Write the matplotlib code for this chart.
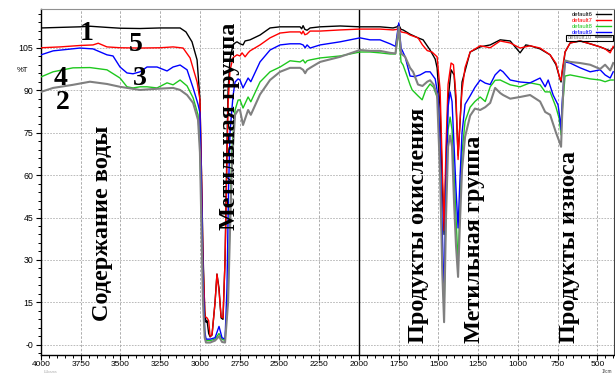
import matplotlib
matplotlib.use("Agg")
import matplotlib.pyplot as plt
from matplotlib.patches import Rectangle
from matplotlib.ticker import MultipleLocator
import numpy as np

# ── Spectra (wavenumber, %T) ─────────────────────────────────────────────────
WN_6 = [4000, 3880, 3755, 3690, 3585, 3500, 3377, 3251, 3125, 3088, 3050, 3018, 3000, 2990, 2981, 2970,
        2962, 2955, 2945, 2936, 2924, 2905, 2893, 2880, 2867, 2855, 2842, 2830, 2823, 2811, 2792, 2779,
        2767, 2748, 2729, 2716, 2685, 2622, 2559, 2496, 2433, 2370, 2360, 2351, 2340, 2326, 2307, 2244,
        2118, 1993, 1867, 1785, 1760, 1749, 1735, 1722, 1678, 1628, 1596, 1552, 1520, 1508, 1489, 1475,
        1464, 1452, 1439, 1420, 1401, 1389, 1376, 1363, 1351, 1300, 1237, 1174, 1111, 1048, 986, 950,
        923, 860, 797, 760, 735, 728, 722, 710, 703, 671, 608, 545, 482, 451, 419, 400]
T_6 = [112.0, 112.2, 112.4, 112.6, 112.2, 111.9, 111.8, 112.0, 112.0, 110.6, 107.1, 100.7, 86.6, 60, 33, 12,
       8.0, 8.5, 4, 2.8, 3.5, 15, 25, 20, 9.5, 9.0, 30, 70, 90, 101, 106, 106.7,
       107.1, 106.4, 106.0, 107.4, 107.8, 109.5, 112.0, 112.4, 112.4, 112.4, 111.7, 112.8, 111.5, 111.2, 112.0, 112.4,
       112.7, 112.4, 112.4, 112.0, 112.4, 113.1, 111.5, 111.3, 109.8, 108.5, 107.8, 104.2, 101, 97.9, 83.7, 57,
       39.0, 63, 86.6, 97.2, 95.4, 85, 67, 79, 92.9, 103.5, 105.3, 106.0, 107.8, 107.4, 103.2, 106.0,
       105.7, 104.6, 102.5, 99.0, 94.0, 92.9, 96.0, 100, 103.5, 106.7, 107.4, 106.4, 105.3, 104.6, 103.9, 105.0]

WN_7 = [4000, 3880, 3755, 3673, 3640, 3585, 3500, 3377, 3251, 3169, 3106, 3062, 3018, 3000, 2990, 2981,
        2968, 2955, 2945, 2936, 2924, 2905, 2893, 2880, 2867, 2855, 2842, 2830, 2823, 2811, 2792, 2767,
        2748, 2735, 2716, 2697, 2685, 2622, 2559, 2496, 2433, 2370, 2360, 2351, 2340, 2326, 2307, 2244,
        2118, 1993, 1867, 1785, 1760, 1749, 1735, 1700, 1678, 1628, 1600, 1570, 1540, 1508, 1489, 1475,
        1464, 1452, 1439, 1420, 1405, 1389, 1376, 1363, 1351, 1332, 1300, 1237, 1174, 1111, 1048, 986,
        923, 860, 797, 760, 735, 728, 722, 710, 703, 671, 608, 545, 482, 451, 419, 400]
T_7 = [105.0, 105.3, 105.8, 106.0, 106.6, 105.3, 105.0, 104.9, 105.0, 105.3, 104.9, 101.4, 92.9, 86.6, 60, 30,
       10, 9.5, 8.5, 3.0, 3.5, 15, 25, 19, 10, 9.5, 30, 65, 85, 97, 101.5, 102.5,
       102.1, 103.2, 101.8, 103.2, 103.9, 106.0, 108.5, 110.2, 110.6, 110.6, 109.9, 110.9, 109.6, 109.9, 110.9, 110.9,
       111.3, 111.6, 111.6, 111.3, 111.5, 112.4, 110.6, 110.2, 109.5, 108.5, 106.0, 104.0, 103.5, 101.8, 90, 62,
       40.5, 70, 92, 99.6, 99.0, 88, 65.5, 80, 90, 98, 103.5, 105.7, 105.0, 107.4, 106.7, 104.9,
       105.7, 104.9, 102.5, 99.5, 94.0, 93.5, 96.5, 101, 103.5, 106.7, 107.4, 106.4, 105.3, 104.6, 103.2, 105.5]

WN_8 = [4000, 3924, 3799, 3692, 3585, 3503, 3459, 3421, 3377, 3333, 3270, 3207, 3169, 3125, 3081, 3043,
        3012, 3000, 2990, 2981, 2970, 2962, 2936, 2905, 2880, 2861, 2842, 2823, 2811, 2798, 2779, 2760,
        2748, 2729, 2697, 2680, 2622, 2559, 2496, 2433, 2370, 2351, 2338, 2326, 2307, 2244, 2118, 1993,
        1930, 1867, 1804, 1770, 1749, 1735, 1722, 1697, 1678, 1665, 1628, 1602, 1580, 1552, 1530, 1502,
        1489, 1475, 1464, 1452, 1439, 1426, 1414, 1401, 1389, 1376, 1363, 1351, 1332, 1300, 1270, 1237,
        1205, 1174, 1143, 1111, 1048, 986, 923, 860, 828, 797, 760, 740, 728, 722, 703, 671,
        608, 545, 482, 451, 419, 400]
T_8 = [94.7, 96.5, 97.9, 98.0, 97.2, 94.3, 91.2, 90.8, 91.2, 91.2, 90.8, 92.6, 91.9, 93.6, 91.5, 87.3,
       81.3, 70, 45, 20, 4, 1.5, 1.5, 2.0, 4.0, 2.0, 1.5, 18, 45, 70, 83.0, 86.5,
       86.6, 83.7, 87.6, 85.9, 92.9, 96.5, 98.2, 100.4, 100.0, 100.7, 99.6, 100.4, 100.7, 101.4, 102.1, 103.5,
       103.5, 103.2, 102.8, 102.8, 111.0, 100, 98.9, 95, 91.9, 90.1, 88, 86.6, 90, 92.2, 91, 86.6,
       65, 30, 11.7, 50, 76, 80.5, 76, 60, 45, 29.0, 50, 68, 79.0, 84.0, 86.0, 87.6,
       86, 91.2, 93.5, 93.6, 91.9, 91.2, 92.6, 91.9, 89.4, 89.4, 84.0, 80, 74.2, 82, 95.0, 95.4,
       94.7, 94.0, 93.6, 93.0, 93.6, 93.6]

WN_9 = [4000, 3924, 3755, 3673, 3585, 3547, 3503, 3459, 3421, 3377, 3333, 3270, 3207, 3169, 3125, 3081,
        3043, 3012, 3000, 2990, 2981, 2970, 2962, 2936, 2905, 2880, 2861, 2842, 2830, 2820, 2811, 2792,
        2779, 2760, 2748, 2729, 2697, 2680, 2622, 2559, 2496, 2433, 2370, 2351, 2338, 2326, 2307, 2244,
        2118, 1993, 1930, 1867, 1804, 1770, 1749, 1735, 1709, 1678, 1650, 1615, 1580, 1552, 1520, 1502,
        1489, 1475, 1464, 1452, 1439, 1426, 1414, 1401, 1389, 1376, 1363, 1351, 1332, 1300, 1270, 1237,
        1205, 1174, 1143, 1111, 1093, 1048, 986, 923, 860, 828, 809, 778, 747, 735, 728, 722,
        703, 671, 608, 545, 482, 451, 419, 400]
T_9 = [102.5, 103.9, 104.9, 104.6, 102.5, 102.1, 98.2, 96.1, 95.8, 96.5, 98.2, 98.2, 96.8, 98.2, 98.9, 97.2,
       90.8, 85, 82, 55, 25, 5, 2.0, 2.0, 2.5, 6.5, 2.5, 2.0, 20, 55, 75, 88,
       92.9, 94.0, 93.6, 90.8, 94.3, 93.0, 100.0, 104.2, 106.0, 106.4, 106.4, 106.0, 105.0, 106.0, 104.9, 106.0,
       107.1, 108.5, 107.8, 107.8, 106.4, 105.5, 113.8, 105, 101.8, 95.0, 94.8, 95.4, 96.5, 96.5, 94, 88,
       70, 40, 16.6, 55, 84, 89.4, 86, 70, 55, 41.3, 60, 75, 85.0, 88, 91.0, 93.6,
       92.5, 92.0, 95.4, 97.2, 96.5, 93.6, 92.9, 92.6, 94.3, 91.2, 93.6, 88.3, 84.8, 80, 76.0, 85,
       100.0, 99.6, 97.9, 96.5, 97.2, 95.4, 94.3, 96.5]

WN_10 = [4000, 3924, 3799, 3692, 3585, 3503, 3377, 3270, 3169, 3125, 3081, 3043, 3012, 3000, 2990, 2981,
         2970, 2962, 2936, 2905, 2880, 2861, 2842, 2823, 2811, 2798, 2779, 2760, 2748, 2729, 2697, 2680,
         2622, 2559, 2496, 2433, 2370, 2351, 2338, 2326, 2307, 2244, 2118, 1993, 1930, 1867, 1804, 1770,
         1749, 1735, 1709, 1678, 1659, 1628, 1600, 1570, 1552, 1530, 1508, 1489, 1475, 1464, 1452, 1439,
         1426, 1414, 1401, 1389, 1376, 1363, 1351, 1332, 1300, 1270, 1237, 1205, 1174, 1143, 1111, 1093,
         1048, 986, 923, 860, 828, 797, 760, 740, 728, 722, 710, 703, 671, 608, 545, 482,
         451, 419, 400]
T_10 = [89.4, 90.8, 91.9, 93.0, 92.2, 91.2, 90.1, 90.5, 90.8, 90.1, 88.3, 85.5, 79.5, 68, 40, 15,
        2.5, 0.8, 0.8, 1.5, 3.0, 1.0, 0.8, 15, 40, 65, 81.3, 83.0, 83.0, 77.7, 83.0, 81.3,
        88.5, 93.6, 96.5, 97.9, 97.9, 97.2, 96.0, 97.2, 97.9, 100.0, 101.8, 104.2, 103.9, 103.9, 103.2, 103.0,
        112.4, 103, 101.8, 97.9, 96.5, 92.0, 91.5, 93.0, 93.5, 92, 88.3, 60, 25, 8.0, 45, 70,
        74, 70, 50, 35, 24.0, 45, 62, 73.5, 81.0, 83.5, 83.0, 84, 85.5, 90.8, 89.0, 88.3,
        87.0, 87.6, 88.3, 86.0, 82.3, 81.3, 75, 72, 70.0, 80, 95, 100.5, 100.0, 99.6, 99.0, 97.5,
        99.0, 97.0, 99.6]

SERIES = [
    ("default6", WN_6, T_6, "#000000", 1.0),
    ("default7", WN_7, T_7, "#ff0000", 1.0),
    ("default8", WN_8, T_8, "#1ec81e", 1.0),
    ("default9", WN_9, T_9, "#0000ff", 1.0),
    ("default10", WN_10, T_10, "#808080", 1.5),
]

Y_TICKS = [0, 15, 30, 45, 60, 75, 90, 105]
Y_LABELS = ["-0", "15", "30", "45", "60", "75", "90", "105"]
X_TICKS = list(range(4000, 499, -250))

# curve numbers and band captions
NUMBERS = [("1", 3711, 110.2), ("5", 3405, 106.3), ("4", 3878, 94.0), ("3", 3377, 94.3), ("2", 3861, 85.6)]
BANDS = [
    ("Содержание воды", 3615, 8.5),
    ("Метильная группа", 2815, 40.5),
    ("Продукты окисления", 1628, 0.6),
    ("Метильная группа", 1270, 0.6),
    ("Продукты износа", 675, 0.6),
]

SERIF = ["Liberation Serif", "DejaVu Serif"]
SANS = ["Liberation Sans", "DejaVu Sans"]

fig = plt.figure(figsize=(6.15, 3.74), dpi=100)
ax = fig.add_axes([41 / 615, 19 / 374, 573 / 615, 346 / 374])

for name, wn, t, color, lw in SERIES:
    ax.plot(wn, t, color=color, lw=lw, label=name, zorder=3)

ax.set_xlim(4000, 395)
ax.set_ylim(-3.6, 118.7)

ax.set_xticks(X_TICKS)
ax.set_xticklabels([str(v) for v in X_TICKS], family=SANS, fontsize=6.0)
ax.xaxis.set_minor_locator(MultipleLocator(50))
ax.set_yticks(Y_TICKS)
ax.set_yticklabels(Y_LABELS, family=SANS, fontsize=6.3)
ax.yaxis.set_minor_locator(MultipleLocator(3))
ax.tick_params(which="major", length=3.5, width=0.8, pad=2)
ax.tick_params(axis="x", which="major", pad=0.6)
ax.tick_params(which="minor", length=2.2, width=0.7)

# grid, with a solid marker line at 2000
for x in X_TICKS[1:]:
    if x == 2000:
        ax.axvline(x, color="black", lw=1.0, zorder=2)
    else:
        ax.axvline(x, color="#a0a0a0", lw=0.6, ls=(0, (3, 2)), zorder=1)
for y in Y_TICKS:
    ax.axhline(y, color="#b0b0b0", lw=0.6, ls=(0, (2, 1.5)), zorder=1)

for side in ["left", "bottom"]:
    ax.spines[side].set_linewidth(1.0)
ax.spines["top"].set_color("#909090")
ax.spines["right"].set_color("#404040")

for s, x, y in NUMBERS:
    ax.text(x, y, s, family=SERIF, fontweight="bold", fontsize=20, ha="center", va="center", zorder=5)
for s, x, y in BANDS:
    ax.text(x, y, s, family=SERIF, fontweight="bold", fontsize=17.5, rotation=90,
            ha="center", va="bottom", zorder=5)

fig.text(17 / 615, 1 - 70 / 374, "%T", family=SANS, fontsize=5.5, va="center")
fig.text(612 / 615, 0.0, "1/cm", family=SANS, fontsize=3.4, ha="right", va="bottom", color="#333333")
fig.text(44 / 615, 0.0, "Шкала", family=SANS, fontsize=3.2, va="bottom", color="#b0b0b0")

leg = ax.legend(loc="upper right", frameon=False, markerfirst=False,
                handlelength=2.6, labelspacing=0.12, borderaxespad=0.15, handletextpad=0.6,
                labelcolor="linecolor", prop={"family": SANS, "size": 4.2})

# box round the last legend entry
fig.canvas.draw()
r = fig.canvas.get_renderer()
tb = leg.get_texts()[-1].get_window_extent(r)
hb = leg.legend_handles[-1].get_window_extent(r)
x0, x1 = min(tb.x0, hb.x0) - 2, max(tb.x1, hb.x1) + 2
y0, y1 = tb.y0 - 0.5, tb.y1 + 0.5
inv = fig.transFigure.inverted()
(fx0, fy0), (fx1, fy1) = inv.transform([(x0, y0), (x1, y1)])
fig.patches.append(Rectangle((fx0, fy0), fx1 - fx0, fy1 - fy0, transform=fig.transFigure,
                             fill=False, edgecolor="black", lw=0.8))

fig.savefig("out.png", dpi=100, facecolor="white")
